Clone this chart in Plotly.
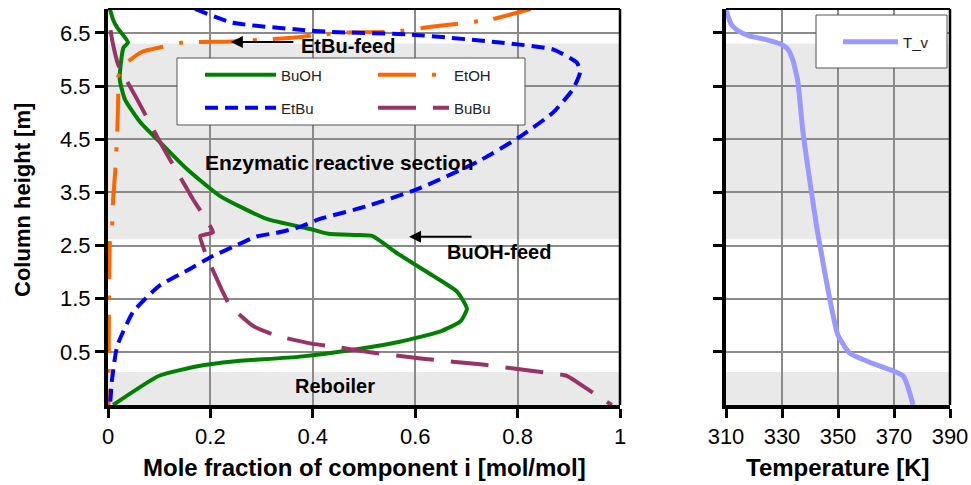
import plotly.graph_objects as go

# ---------------- data ----------------
buoh_x = [0.004, 0.010, 0.018, 0.039, 0.030, 0.026, 0.023, 0.033, 0.063, 0.102, 0.154, 0.219,
          0.310, 0.395, 0.430, 0.486, 0.516, 0.564, 0.635, 0.682, 0.701, 0.688, 0.648, 0.570,
          0.492, 0.375, 0.244, 0.180, 0.100, 0.010]
buoh_y = [6.94, 6.75, 6.60, 6.32, 6.22, 6.00, 5.62, 5.25, 4.82, 4.44, 3.94, 3.43,
          3.00, 2.81, 2.72, 2.70, 2.68, 2.36, 1.93, 1.63, 1.31, 1.07, 0.88, 0.69,
          0.56, 0.41, 0.32, 0.24, 0.05, -0.50]

etbu_x = [0.170, 0.244, 0.375, 0.434, 0.590, 0.766, 0.869, 0.916, 0.922, 0.908, 0.869, 0.805,
          0.721, 0.604, 0.506, 0.414, 0.375, 0.330, 0.290, 0.250, 0.200, 0.160, 0.100, 0.049,
          0.018, 0.008, 0.004]
etbu_y = [6.95, 6.69, 6.56, 6.52, 6.47, 6.32, 6.19, 5.94, 5.76, 5.44, 5.00, 4.55,
          4.07, 3.56, 3.24, 3.00, 2.85, 2.74, 2.67, 2.50, 2.28, 2.06, 1.74, 1.25,
          0.61, -0.01, -0.50]

etoh_x = [0.825, 0.746, 0.635, 0.557, 0.473, 0.414, 0.361, 0.244, 0.146, 0.107, 0.068, 0.037,
          0.020, 0.020, 0.018, 0.014, 0.010, 0.008, 0.004, 0.002, 0.001]
etoh_y = [6.95, 6.75, 6.62, 6.52, 6.51, 6.47, 6.41, 6.34, 6.32, 6.24, 6.15, 5.94,
          5.68, 5.30, 4.63, 3.88, 3.37, 2.87, 2.62, 1.50, -0.50]

bubu_x = [0.005, 0.008, 0.020, 0.057, 0.102, 0.166, 0.205, 0.180, 0.191, 0.223, 0.238, 0.283,
          0.330, 0.400, 0.440, 0.506, 0.615, 0.732, 0.838, 0.896, 0.941, 0.984]
bubu_y = [6.55, 6.37, 5.90, 5.25, 4.44, 3.37, 2.75, 2.68, 2.34, 1.65, 1.37, 0.99,
          0.80, 0.65, 0.60, 0.50, 0.37, 0.26, 0.13, 0.05, -0.23, -0.50]

tv_T = [310.0, 310.8, 312.0, 314.0, 318.0, 324.6, 329.0, 332.0, 333.8, 334.8, 335.7, 337.5,
        340.0, 342.5, 343.6, 344.6, 348.0, 350.0, 354.3, 362.5, 373.2, 376.8]
tv_y = [6.94, 6.80, 6.65, 6.55, 6.45, 6.37, 6.30, 6.20, 6.00, 5.80, 5.57, 4.63,
        3.69, 2.81, 2.49, 2.19, 1.25, 0.81, 0.47, 0.28, 0.05, -0.50]

x_ticks = [0, 0.2, 0.4, 0.6, 0.8, 1.0]
x_ticktext = ["0", "0.2", "0.4", "0.6", "0.8", "1"]
t_ticks = [310, 330, 350, 370, 390]
y_ticks = [0.5, 1.5, 2.5, 3.5, 4.5, 5.5, 6.5]

# ---------------- figure ----------------
OFF = 0                      # body margin removed by post_script
W, H = 971 - OFF, 485 - OFF
MT, MB = 9 - OFF, 80
PH = H - MT - MB
FONT = "Arial, Liberation Sans, sans-serif"


def px(xp):
    return (xp - OFF) / W


def py(yp):
    return (H - MB - (yp - OFF)) / PH


fig = go.Figure()
SM = 0.5
fig.add_trace(go.Scatter(x=buoh_x, y=buoh_y, mode="lines", name="BuOH",
                         line=dict(color="#008000", width=4, shape="spline", smoothing=SM),
                         legend="legend"))
fig.add_trace(go.Scatter(x=etoh_x, y=etoh_y, mode="lines", name="EtOH",
                         line=dict(color="#FF6600", width=4, dash="38px,16px,4px,16px",
                                   shape="spline", smoothing=SM), legend="legend"))
fig.add_trace(go.Scatter(x=etbu_x, y=etbu_y, mode="lines", name="EtBu",
                         line=dict(color="#0000FF", width=4, dash="13px,7px",
                                   shape="spline", smoothing=SM), legend="legend3"))
fig.add_trace(go.Scatter(x=bubu_x, y=bubu_y, mode="lines", name="BuBu",
                         line=dict(color="#993366", width=4, dash="38px,17px",
                                   shape="spline", smoothing=0.4), legend="legend3"))
fig.add_trace(go.Scatter(x=tv_T, y=tv_y, mode="lines", name="T_v", xaxis="x2", yaxis="y2",
                         line=dict(color="#9999FF", width=5, shape="spline", smoothing=SM),
                         legend="legend2"))

axis_common = dict(showgrid=True, gridcolor="#8a8a8a", gridwidth=1.5, zeroline=False,
                   showline=True, linecolor="black", linewidth=4, ticks="outside",
                   ticklen=9, tickwidth=3, tickcolor="black", mirror=False,
                   tickfont=dict(family=FONT, size=22, color="black"), automargin=False)

YR = [-0.5, 6.95]
leg_common = dict(orientation="h", xanchor="left", yanchor="middle",
                  bgcolor="rgba(0,0,0,0)", borderwidth=0,
                  font=dict(family=FONT, size=15, color="#222"))
fig.update_layout(
    width=W, height=H,
    margin=dict(l=0, r=0, t=MT, b=MB),
    paper_bgcolor="white", plot_bgcolor="white",
    xaxis=dict(domain=[px(108), px(620)], range=[0, 1], tickvals=x_ticks, ticktext=x_ticktext,
               anchor="y", **axis_common),
    yaxis=dict(domain=[0, 1], range=YR, tickvals=y_ticks, anchor="x", **axis_common),
    xaxis2=dict(domain=[px(726), px(950)], range=[310, 390], tickvals=t_ticks,
                anchor="y2", **axis_common),
    yaxis2=dict(domain=[0, 1], range=YR, tickvals=y_ticks, anchor="x2",
                showticklabels=False, **axis_common),
    legend=dict(x=px(200), y=py(75), itemwidth=71, entrywidth=87, entrywidthmode="pixels",
                **leg_common),
    legend3=dict(x=px(200), y=py(108), itemwidth=71, entrywidth=87, entrywidthmode="pixels",
                 **leg_common),
    legend2=dict(x=px(838), y=py(42), itemwidth=55, **leg_common),
    showlegend=True,
)

shapes = []
SHADE = "#e9e9e9"
for xr, yr in (("x", "y"), ("x2", "y2")):
    for y0, y1 in ((2.62, 6.30), (-0.5, 0.12)):
        shapes.append(dict(type="rect", xref=f"{xr} domain", yref=yr, x0=0, x1=1, y0=y0, y1=y1,
                           fillcolor=SHADE, line=dict(width=0), layer="below"))
    shapes.append(dict(type="line", xref=f"{xr} domain", yref=f"{yr} domain", x0=0, x1=1,
                       y0=1, y1=1, line=dict(color="black", width=2), layer="above"))
    shapes.append(dict(type="line", xref=f"{xr} domain", yref=f"{yr} domain", x0=1, x1=1,
                       y0=0, y1=1, line=dict(color="black", width=2.5), layer="above"))
shapes.append(dict(type="rect", xref="paper", yref="paper", x0=px(177), x1=px(525),
                   y0=py(125), y1=py(58), fillcolor="white", line=dict(color="#555", width=1),
                   layer="above"))
shapes.append(dict(type="rect", xref="paper", yref="paper", x0=px(816), x1=px(947),
                   y0=py(68), y1=py(15), fillcolor="white", line=dict(color="#555", width=1),
                   layer="above"))
fig.update_layout(shapes=shapes)

ann_font = dict(family=FONT, size=20, color="black")
title_font = dict(family=FONT, size=24, color="black")
annotations = [
    dict(x=0.469, y=6.25, xref="x", yref="y", text="<b>EtBu-feed</b>", showarrow=False,
         font=ann_font, xanchor="center", yanchor="middle"),
    dict(x=0.451, y=4.07, xref="x", yref="y", text="<b>Enzymatic reactive section</b>",
         showarrow=False, font=dict(family=FONT, size=21, color="black"),
         xanchor="center", yanchor="middle"),
    dict(x=0.763, y=2.38, xref="x", yref="y", text="<b>BuOH-feed</b>", showarrow=False,
         font=ann_font, xanchor="center", yanchor="middle"),
    dict(x=0.443, y=-0.15, xref="x", yref="y", text="<b>Reboiler</b>", showarrow=False,
         font=ann_font, xanchor="center", yanchor="middle"),
    dict(x=0.240, y=6.33, ax=0.365, ay=6.33, xref="x", yref="y", axref="x", ayref="y",
         text="", showarrow=True, arrowhead=2, arrowsize=1.2, arrowwidth=2, arrowcolor="black"),
    dict(x=0.588, y=2.665, ax=0.713, ay=2.665, xref="x", yref="y", axref="x", ayref="y",
         text="", showarrow=True, arrowhead=2, arrowsize=1.2, arrowwidth=2, arrowcolor="black"),
    dict(x=px(364), y=py(467), xref="paper", yref="paper",
         text="<b>Mole fraction of component i [mol/mol]</b>", showarrow=False,
         font=title_font, xanchor="center", yanchor="middle"),
    dict(x=px(838), y=py(467), xref="paper", yref="paper", text="<b>Temperature [K]</b>",
         showarrow=False, font=title_font, xanchor="center", yanchor="middle"),
    dict(x=px(22), y=py(200), xref="paper", yref="paper", text="<b>Column height [m]</b>",
         showarrow=False, font=dict(family=FONT, size=22, color="black"),
         xanchor="center", yanchor="middle", textangle=-90),
]
fig.update_layout(annotations=annotations)

fig.write_html("out.html", config={"displayModeBar": False},
               post_script="document.body.style.margin='0';document.body.style.overflow='hidden';")
